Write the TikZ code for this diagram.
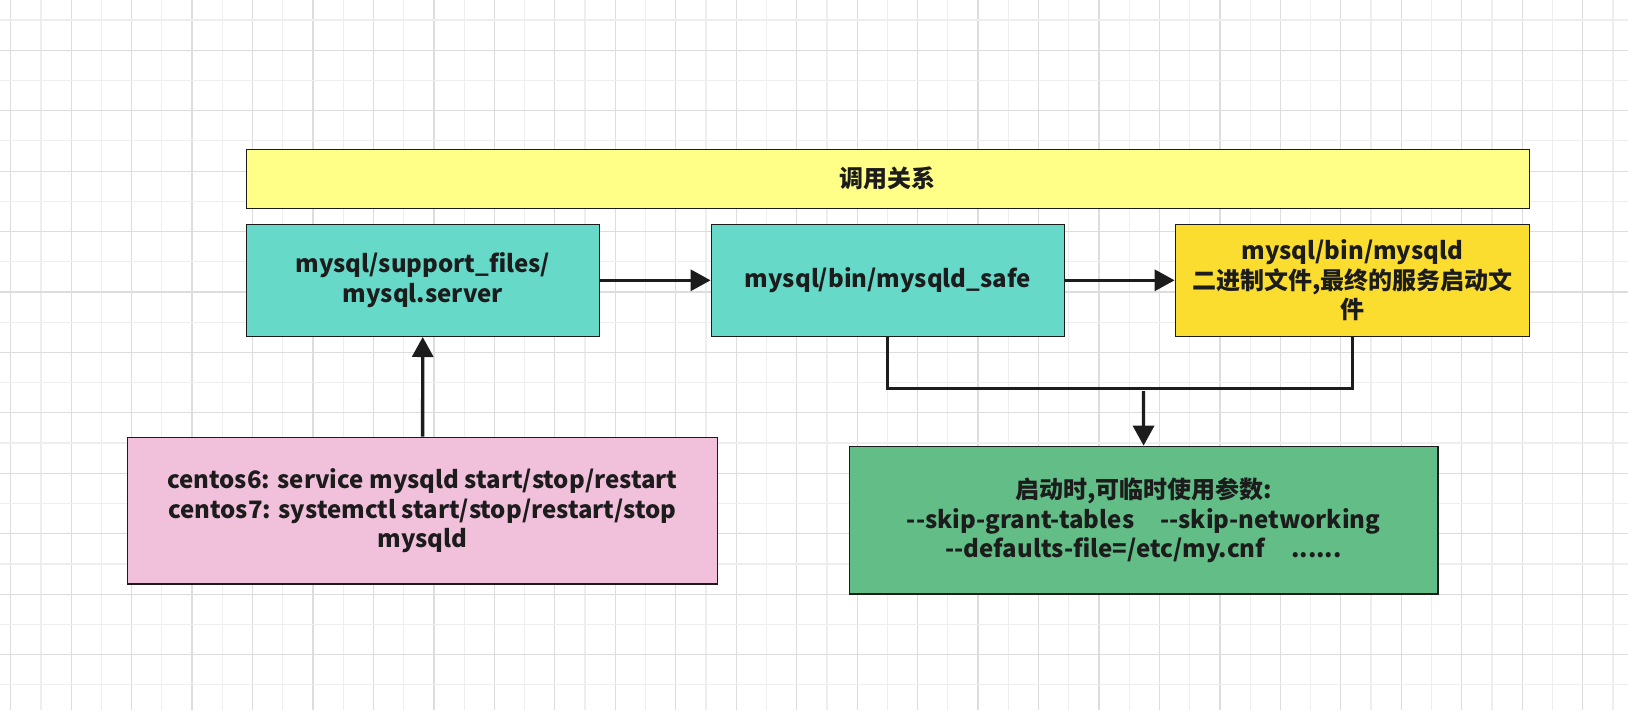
\documentclass[tikz,border=0pt]{standalone}
\usepackage{fontspec}
\setmainfont{Noto Sans CJK SC}[Ligatures=TeXOff]
\usepackage{tikz}
\usetikzlibrary{
  arrows.meta,
  positioning
}

\definecolor{gridmajor}{HTML}{DDDDDD}
\definecolor{gridminor}{HTML}{EEEEEE}
\definecolor{titlefill}{HTML}{FFFF88}
\definecolor{tealfill}{HTML}{67D9C8}
\definecolor{goldfill}{HTML}{FBDD2F}
\definecolor{pinkfill}{HTML}{F1C1DC}
\definecolor{greenfill}{HTML}{62BD86}
\definecolor{ink}{HTML}{1C1C1C}

\begin{document}
\begin{tikzpicture}[
  x=1pt,
  y=-1pt,
  >=Latex,
  font=\bfseries\fontsize{24}{29.6}\selectfont,
  box/.style={draw=ink, line width=1.4pt, inner sep=0pt, align=center,
              text=ink},
  arrow/.style={ink, line width=3.3pt,
                -{Triangle[length=20pt,width=21pt]}},
  link/.style={ink, line width=3pt},
  gridline/.style={line width=1.2pt}
]

  % Canvas and its grid.
  \useasboundingbox (0,0) rectangle (1628,710);
  \fill[white] (0,0) rectangle (1628,710);
  \foreach \k in {0,...,53}{
    \pgfmathsetmacro{\xx}{10.7+30.23*\k}
    \ifodd\k
      \draw[gridline,gridminor] (\xx,0) -- (\xx,710);
    \else
      \draw[gridline,gridmajor] (\xx,0) -- (\xx,710);
    \fi
  }
  \foreach \k in {0,...,22}{
    \pgfmathsetmacro{\yy}{20+30.22*\k}
    \ifodd\k
      \draw[gridline,gridmajor] (0,\yy) -- (1628,\yy);
    \else
      \draw[gridline,gridminor] (0,\yy) -- (1628,\yy);
    \fi
  }

  % Title bar.
  \node[box, fill=titlefill, minimum width=1283pt, minimum height=59pt]
    (title) at (887.8,178.8) {调用关系};

  % Call chain.
  \node[box, fill=tealfill, minimum width=353pt, minimum height=112pt]
    (server) at (422.8,280.3) {mysql/support\_files/\\mysql.server};
  \node[box, fill=tealfill, minimum width=353pt, minimum height=112pt]
    (safe) at (887.8,280.3) {mysql/bin/mysqld\_safe};
  \node[box, fill=goldfill, minimum width=354pt, minimum height=112pt]
    (mysqld) at (1352.3,280.3)
    {mysql/bin/mysqld\\二进制文件,最终的服务启动文\\件};

  % Service commands and startup options.
  \node[box, fill=pinkfill, minimum width=589.6pt, minimum height=146.7pt]
    (service) at (422.5,510.7)
    {centos6: service mysqld start/stop/restart\\
     centos7: systemctl start/stop/restart/stop\\
     mysqld};
  \node[box, fill=greenfill, minimum width=588.7pt, minimum height=147.7pt]
    (options) at (1143.7,520.2)
    {启动时,可临时使用参数:\\
     --skip-grant-tables\hspace{26pt}--skip-networking\\
     --defaults-file=/etc/my.cnf\hspace{26pt}......};

  % Connectors.
  \draw[arrow] (server) -- (safe);
  \draw[arrow] (safe) -- (mysqld);
  \draw[arrow] (service) -- (server);
  \draw[link] (safe.south) -- ++(0,51) -| (mysqld.south);
  \coordinate (merge) at (1143.5,391);
  \draw[arrow] (merge) -- (options);

\end{tikzpicture}
\end{document}
